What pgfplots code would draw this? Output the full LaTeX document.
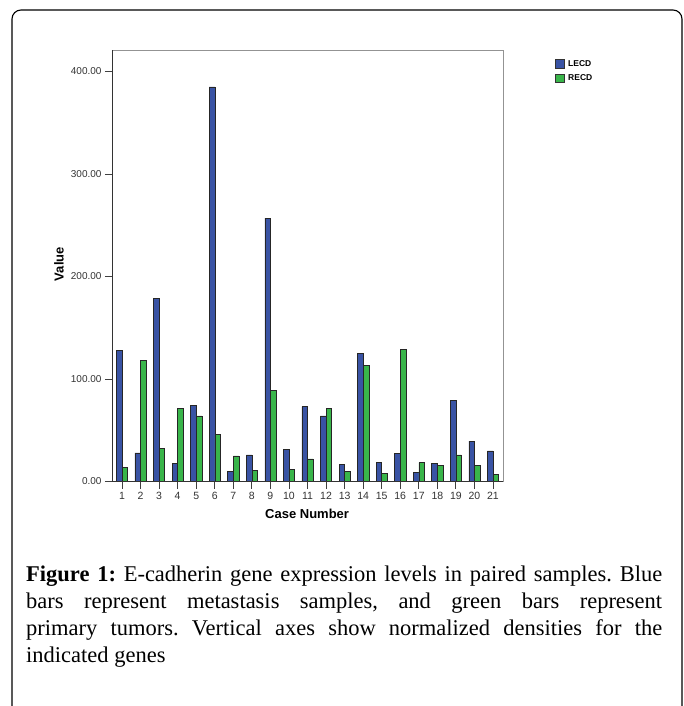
\documentclass[border=0pt]{standalone}
\usepackage{pgfplots}
\usepackage{pgfplotstable}
\pgfplotsset{compat=1.18}
\usepackage{fontspec}
\setmainfont{Liberation Serif}
\newfontfamily\chartfont{Liberation Sans}
\definecolor{barblue}{RGB}{57,83,164}
\definecolor{bargreen}{RGB}{57,181,74}
\pgfplotstableread{
case lecd recd
1 128 13.5
2 28 118
3 179 32.4
4 17.7 71.4
5 74 64
6 385 46
7 10 25
8 26 11.2
9 257 89
10 31 12.2
11 73 22
12 64 71.4
13 16.4 10
14 125 113
15 18.4 8
16 27.8 129
17 9 18.4
18 17.7 15.4
19 79.5 26
20 39.5 15.4
21 30 7
}\datatable
\begin{document}
\frenchspacing
\begin{tikzpicture}[x=1pt,y=1pt]
\useasboundingbox (0,0) rectangle (683,-706);
\draw[line width=1.1pt, rounded corners=9pt] (12,-720) -- (12,-10) -- (682,-10) -- (682,-720);
\coordinate (AX) at (112,-481.5);
\begin{axis}[
  at={(AX)}, anchor=south west, scale only axis,
  width=391pt, height=431.5pt,
  xmin=0.46, xmax=21.54, ymin=0, ymax=421,
  enlargelimits=false,
  ybar=0pt, bar width=5.6pt,
  xtick={1,...,21}, ytick={0,100,...,400},
  xtick pos=bottom, ytick pos=left,
  tick align=outside, major tick length=7pt,
  tick style={black!75, line width=0.8pt},
  axis line style={gray!85, line width=1pt},
  yticklabel style={/pgf/number format/fixed, /pgf/number format/fixed zerofill,
    /pgf/number format/precision=2, /pgf/number format/1000 sep={}},
  /pgf/number format/assume math mode=true,
  xticklabel style={font=\chartfont\fontsize{10.5}{11}\selectfont, text=black!80},
  yticklabel style={font=\chartfont\fontsize{10}{10}\selectfont, text=black!80},
  xlabel={Case Number}, ylabel={Value},
  every axis x label/.style={at={(axis description cs:0.499,-0.0753)}, anchor=center,
    font=\chartfont\bfseries\fontsize{13}{13}\selectfont},
  every axis y label/.style={at={(axis description cs:-0.1355,0.504)}, rotate=90, anchor=center,
    font=\chartfont\bfseries\fontsize{13}{13}\selectfont},
  legend style={at={(axis description cs:1.133,0.981)}, anchor=north west, draw=none, fill=none,
    inner sep=0pt, font=\chartfont\bfseries\fontsize{8.5}{9}\selectfont, row sep=3pt,
    /tikz/every odd column/.append style={column sep=2pt}},
  legend cell align=left,
]
\addplot[fill=barblue, draw=black!85, line width=0.5pt,
  legend image code/.code={\draw[fill=barblue, draw=black!80, line width=0.5pt] (0pt,-4pt) rectangle (8.5pt,4.5pt);}]
  table[x=case,y=lecd]{\datatable};
\addplot[fill=bargreen, draw=black!85, line width=0.5pt,
  legend image code/.code={\draw[fill=bargreen, draw=black!80, line width=0.5pt] (0pt,-4pt) rectangle (8.5pt,4.5pt);}]
  table[x=case,y=recd]{\datatable};
\legend{LECD,RECD}
\draw[black!80, line width=1pt] (rel axis cs:0,1) -- (rel axis cs:0,0) -- (rel axis cs:1,0);
\end{axis}
\node[anchor=north west, inner sep=0pt, text width=636pt, align=justify,
  font=\fontsize{22.5}{27}\selectfont] at (26,-566)
  {\textbf{Figure 1:} E-cadherin gene expression levels in paired samples. Blue\linebreak
   bars represent metastasis samples, and green bars represent\linebreak
   primary tumors. Vertical axes show normalized densities for the\linebreak
   indicated genes};
\end{tikzpicture}
\end{document}
